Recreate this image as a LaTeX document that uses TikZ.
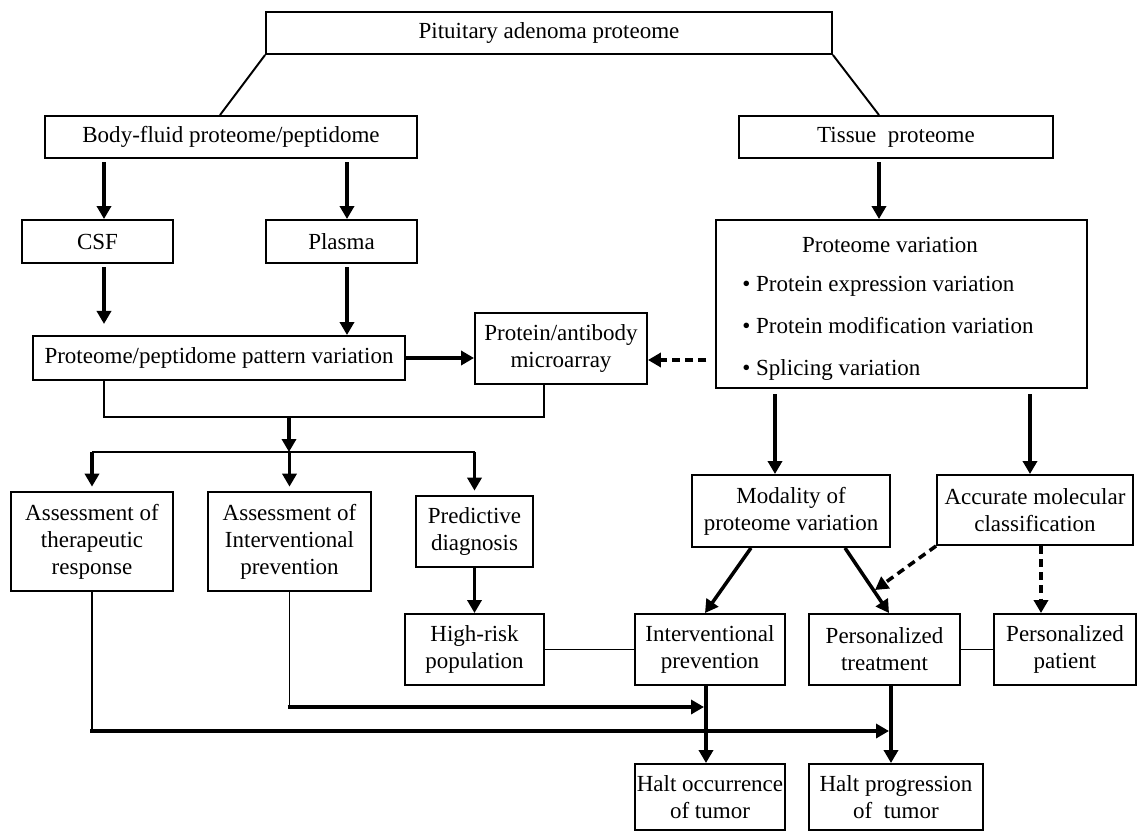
\documentclass[tikz,border=0pt]{standalone}
\usepackage{fontspec}
\setmainfont{Liberation Serif}
\usetikzlibrary{arrows.meta}

\begin{document}
\begin{tikzpicture}[x=0.02cm, y=-0.02cm,
  box/.style={draw, line width=1.1pt, align=center, inner sep=0pt,
    font=\fontsize{13.1}{15.4}\selectfont},
  txt/.style={inner sep=0pt, font=\fontsize{13.1}{15.4}\selectfont},
  link/.style={line width=1.1pt},
  arr/.style={line width=2pt, -{Triangle[length=7.4pt,width=8pt]}, shorten <=2pt},
  darr/.style={arr, dash pattern=on 4.5pt off 3pt}]
  \useasboundingbox (0,0) rectangle (1137,832);
  % Top of the tree
  \node[box, minimum width=11.32cm, minimum height=0.84cm] (top) at (549,33) {Pituitary adenoma proteome};
  \node[box, minimum width=7.44cm, minimum height=0.84cm] (body) at (231,137) {Body-fluid proteome/peptidome};
  \node[box, minimum width=6.28cm, minimum height=0.84cm] (tissue) at (896,137) {Tissue\ \ proteome};
  % Body fluids
  \node[box, minimum width=3.02cm, minimum height=0.86cm] (csf) at (97.5,241.5) {CSF};
  \node[box, minimum width=3.02cm, minimum height=0.86cm] (plasma) at (341.5,241.5) {Plasma};
  \node[box, minimum width=7.44cm, minimum height=0.88cm] (pattern) at (219,358) {Proteome/peptidome pattern variation};
  \node[box, minimum width=3.44cm, minimum height=1.42cm] (array) at (561,348.5) {Protein/antibody\\microarray};
  % Tissue side
  \node[box, minimum width=7.42cm, minimum height=3.36cm] (provar) at (901.5,304) {};
  \node[txt] (provarhd) at (890,245) {Proteome variation};
  \node[txt, align=left, anchor=west] (provarls) at (742,328)
    {\textbullet\ Protein expression variation\\[8.5pt]
     \textbullet\ Protein modification variation\\[8.5pt]
     \textbullet\ Splicing variation};
  % Assessments
  \node[box, minimum width=3.24cm, minimum height=1.98cm] (assther) at (92,541.5) {Assessment of\\therapeutic\\response};
  \node[box, minimum width=3.26cm, minimum height=1.98cm] (assint) at (289.5,541.5) {Assessment of\\Interventional\\prevention};
  \node[box, minimum width=2.34cm, minimum height=1.42cm] (pred) at (474.5,531.5) {Predictive\\diagnosis};
  \node[box, minimum width=3.96cm, minimum height=1.44cm] (modal) at (791,511) {Modality of\\proteome variation};
  \node[box, minimum width=3.92cm, minimum height=1.4cm] (accur) at (1035,510) {Accurate molecular\\classification};
  % Outcomes
  \node[box, minimum width=2.78cm, minimum height=1.42cm] (risk) at (474.5,649.5) {High-risk\\population};
  \node[box, minimum width=3.0cm, minimum height=1.42cm] (intprev) at (710,649.5) {Interventional\\prevention};
  \node[box, minimum width=3.02cm, minimum height=1.42cm] (perstr) at (884.5,649.5) {Personalized\\treatment};
  \node[box, minimum width=2.84cm, minimum height=1.42cm] (perspat) at (1065,649.5) {Personalized\\patient};
  \node[box, minimum width=3.0cm, minimum height=1.32cm] (haltocc) at (710,797) {Halt occurrence\\of tumor};
  \node[box, minimum width=3.48cm, minimum height=1.32cm] (haltprog) at (896,797) {Halt progression\\of\ \ tumor};

  % Upper connectors
  \draw[link] (top.south west) -- (body.north -| 220,0);
  \draw[link] (top.south east) -- (tissue.north -| 879,0);
  \draw[arr] (body.south -| 104,0) -- (csf.north -| 104,0);
  \draw[arr] (body.south -| 347,0) -- (plasma.north -| 347,0);
  \draw[arr] (tissue.south -| 879,0) -- (provar.north -| 879,0);
  \draw[arr, shorten >=6.3pt] (csf.south -| 104,0) -- (pattern.north -| 104,0);
  \draw[arr] (plasma.south -| 347,0) -- (pattern.north -| 347,0);
  \draw[arr, shorten <=0pt] (pattern.east) -- (pattern.east -| array.west);
  \draw[darr, shorten <=5pt] (provar.west |- 0,360) -- (array.east |- 0,360);
  % Merge and split
  \coordinate (mrg) at (289,417);
  \coordinate (spl) at (289,452);
  \draw[link] (pattern.south -| 104,0) |- (mrg) -| (array.south -| 544,0);
  \draw[arr, shorten <=0pt] (mrg) -- (spl);
  \draw[link] (assther.north |- spl) -- (pred.north |- spl);
  \foreach \n in {assther, assint, pred}
    \draw[arr, shorten <=0pt, shorten >=2.5pt] (\n.north |- spl) -- (\n.north);
  \draw[arr, shorten <=0pt] (pred.south) -- (risk.north);
  \draw[link] (risk.east) -- (intprev.west);
  \draw[link] (perstr.east) -- (perspat.west);
  % Tissue side connectors
  \draw[arr, shorten <=3pt] (provar.south -| 775,0) -- (modal.north -| 775,0);
  \draw[arr, shorten <=3pt] (provar.south -| 1030,0) -- (accur.north -| 1030,0);
  \draw[arr, shorten <=0pt] (modal.south -| 751,0) -- (intprev.north -| 705,0);
  \draw[arr, shorten <=0pt] (modal.south -| 845,0) -- (perstr.north -| 889,0);
  \coordinate (jn) at (875,590);
  \draw[darr, shorten <=0pt] (accur.south west) -- (jn);
  \draw[darr, shorten <=0pt] (accur.south -| 1041,0) -- (perspat.north -| 1041,0);
  \draw[arr, shorten <=0pt] (intprev.south -| 706,0) -- (haltocc.north -| 706,0);
  \draw[arr, shorten <=0pt] (perstr.south -| 891,0) -- (haltprog.north -| 891,0);
  % Lines from the assessments
  \coordinate (ja) at (assint.south |- 0,707);
  \coordinate (jb) at (assther.south |- 0,731);
  \draw[link] (assint.south) -- (ja);
  \draw[arr, shorten <=-1pt] (ja) -- (ja -| 704,0);
  \draw[link] (assther.south) -- (jb);
  \draw[arr, shorten <=-1pt] (jb) -- (jb -| 889,0);
\end{tikzpicture}
\end{document}
